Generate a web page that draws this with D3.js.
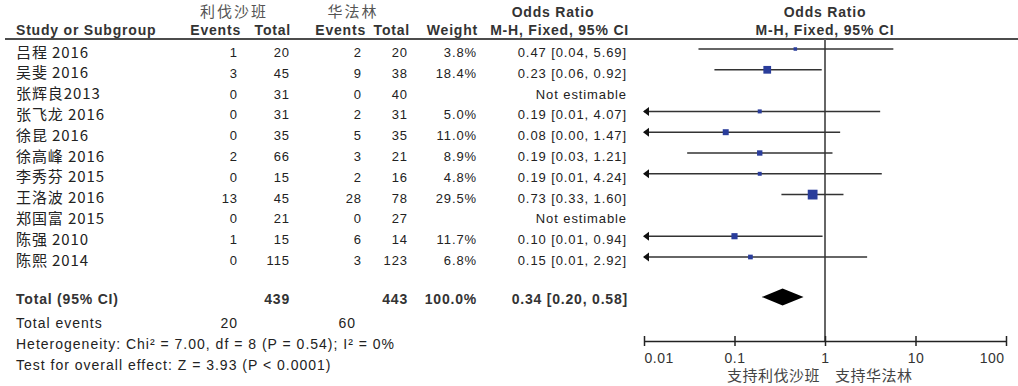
<!DOCTYPE html>
<meta charset="utf-8" />
<style>
  body {
    margin: 0;
    background: #fff;
  }

  svg text {
    font-family: "Liberation Sans", Arial, "Noto Sans CJK SC", sans-serif;
    font-size: 13px;
    letter-spacing: 0.9px;
    fill: #222;
  }

  .head {
    font-weight: bold;
    font-size: 14px;
    fill: #333;
    letter-spacing: 0.8px;
  }

  .cjk {
    font-family: "Noto Sans CJK SC", sans-serif;
    font-size: 15px;
    letter-spacing: 0.9px;
  }

  .group {
    font-family: "Noto Sans CJK SC", sans-serif;
    font-size: 15px;
    fill: #555;
    letter-spacing: 2px;
  }

  .favour {
    font-family: "Noto Sans CJK SC", sans-serif;
    font-size: 15px;
    fill: #444;
    letter-spacing: 0.5px;
  }

  .foot {
    font-size: 14px;
    letter-spacing: 1px;
  }

  .axis path,
  .axis line {
    stroke: #222;
    stroke-width: 1.5;
    fill: none;
  }

  .axis text {
    font-size: 14px;
    fill: #333;
    letter-spacing: 0.5px;
  }
</style>
<svg width="1018" height="386"></svg>
<script src="https://cdn.jsdelivr.net/npm/d3@7"></script>
<script>
  var studies = ["吕程 2016", "吴斐 2016", "张辉良2013", "张飞龙 2016", "徐昆 2016",
    "徐高峰 2016", "李秀芬 2015", "王洛波 2016", "郑国富 2015", "陈强 2010", "陈熙 2014"];
  var rivEvents = [1, 3, 0, 0, 0, 2, 0, 13, 0, 1, 0];
  var rivTotal = [20, 45, 31, 31, 35, 66, 15, 45, 21, 15, 115];
  var warEvents = [2, 9, 0, 2, 5, 3, 2, 28, 0, 6, 3];
  var warTotal = [20, 38, 40, 31, 35, 21, 16, 78, 27, 14, 123];
  var weights = [3.8, 18.4, null, 5.0, 11.0, 8.9, 4.8, 29.5, null, 11.7, 6.8];
  var orValues = [0.47, 0.23, null, 0.19, 0.08, 0.19, 0.19, 0.73, null, 0.10, 0.15];
  var ciLow = [0.04, 0.06, null, 0.01, 0.00, 0.03, 0.01, 0.33, null, 0.01, 0.01];
  var ciHigh = [5.69, 0.92, null, 4.07, 1.47, 1.21, 4.24, 1.60, null, 0.94, 2.92];

  var totalRiv = 439, totalWar = 443;
  var totalEventsRiv = 20, totalEventsWar = 60;
  var totalOR = [0.34, 0.20, 0.58];
  var axisTicks = [0.01, 0.1, 1, 10, 100];
  var heterogeneity = "Heterogeneity: Chi² = 7.00, df = 8 (P = 0.54); I² = 0%";
  var overallTest = "Test for overall effect: Z = 3.93 (P < 0.0001)";

  var svg = d3.select("svg");

  var x = d3.scaleLog().domain([0.01, 100]).range([644, 1006]);
  var y = d3.scaleLinear().domain([0, studies.length - 1]).range([49, 257]);

  // right edges of the table columns
  var col = { name: 16, rivE: 238, rivT: 290, warE: 362, warT: 408, weight: 477, ci: 627 };

  function fmt(v) {
    return v.toFixed(2);
  }

  function addText(tx, ty, str, anchor, cls) {
    return svg.append("text")
      .attr("x", tx)
      .attr("y", ty)
      .attr("text-anchor", anchor || "end")
      .attr("class", cls || null)
      .text(str);
  }

  // header
  addText(234, 17, "利伐沙班", "middle", "group");
  addText(353, 17, "华法林", "middle", "group");
  addText(553, 17, "Odds Ratio", "middle", "head");
  addText(x(1), 17, "Odds Ratio", "middle", "head");
  addText(col.name, 35, "Study or Subgroup", "start", "head");
  addText(col.rivE + 3, 35, "Events", "end", "head");
  addText(col.rivT + 1, 35, "Total", "end", "head");
  addText(col.warE + 4, 35, "Events", "end", "head");
  addText(col.warT + 2, 35, "Total", "end", "head");
  addText(col.weight + 1, 35, "Weight", "end", "head");
  addText(col.ci + 2, 35, "M-H, Fixed, 95% CI", "end", "head");
  addText(x(1), 35, "M-H, Fixed, 95% CI", "middle", "head");

  svg.append("line")
    .attr("x1", 5).attr("x2", 1018)
    .attr("y1", 39).attr("y2", 39)
    .attr("stroke", "#111")
    .attr("stroke-width", 1.6);

  // line of no effect
  svg.append("line")
    .attr("x1", x(1)).attr("x2", x(1))
    .attr("y1", 39).attr("y2", 341)
    .attr("stroke", "#666")
    .attr("stroke-width", 2);

  // table rows
  studies.forEach(function(s, i) {
    var ty = y(i) + 8;
    addText(col.name, ty + 0.5, s, "start", "cjk");
    addText(col.rivE, ty, rivEvents[i]);
    addText(col.rivT, ty, rivTotal[i]);
    addText(col.warE, ty, warEvents[i]);
    addText(col.warT, ty, warTotal[i]);
    if (orValues[i] == null) {
      addText(col.ci, ty, "Not estimable").attr("letter-spacing", "0.3px");
      return;
    }
    addText(col.weight, ty, weights[i].toFixed(1) + "%");
    addText(col.ci, ty, fmt(orValues[i]) + " [" + fmt(ciLow[i]) + ", " + fmt(ciHigh[i]) + "]");
  });

  // forest marks
  var g = svg.append("g");
  studies.forEach(function(s, i) {
    if (orValues[i] == null) return;
    var cy = y(i);
    var clipped = ciLow[i] <= 0.01;
    var x1 = clipped ? x(0.01) : x(ciLow[i]);
    g.append("line")
      .attr("x1", x1).attr("x2", x(ciHigh[i]))
      .attr("y1", cy).attr("y2", cy)
      .attr("stroke", "#333")
      .attr("stroke-width", 1.5);
    if (clipped) {
      g.append("path")
        .attr("d", "M" + (x1 - 1) + "," + cy + "l6,-4.5v9z")
        .attr("fill", "#111");
    }
    var side = 1.8 * Math.sqrt(weights[i]);
    g.append("rect")
      .attr("x", x(orValues[i]) - side / 2)
      .attr("y", cy - side / 2)
      .attr("width", side)
      .attr("height", side)
      .attr("fill", "#2a3d9b");
  });

  // totals
  addText(col.name, 304, "Total (95% CI)", "start", "head");
  addText(col.rivT, 304, totalRiv, "end", "head");
  addText(col.warT, 304, totalWar, "end", "head");
  addText(col.weight, 304, "100.0%", "end", "head");
  addText(col.ci + 1, 304, fmt(totalOR[0]) + " [" + fmt(totalOR[1]) + ", " + fmt(totalOR[2]) + "]", "end", "head");

  var dy = 297;
  svg.append("path")
    .attr("d", "M" + x(totalOR[1]) + "," + dy +
      "L" + x(totalOR[0]) + "," + (dy - 8.5) +
      "L" + x(totalOR[2]) + "," + dy +
      "L" + x(totalOR[0]) + "," + (dy + 8.5) + "Z")
    .attr("fill", "#000");

  addText(col.name, 328, "Total events", "start", "foot").attr("letter-spacing", "1.15px");
  addText(col.rivE, 328, totalEventsRiv, "end", "foot");
  addText(col.warE - 6, 328, totalEventsWar, "end", "foot");
  addText(col.name, 349, heterogeneity, "start", "foot");
  addText(col.name, 370, overallTest, "start", "foot");

  // axis
  var axis = svg.append("g")
    .attr("class", "axis")
    .attr("transform", "translate(0,341)")
    .call(d3.axisBottom(x)
      .tickValues(axisTicks)
      .tickFormat(function(d) { return String(d); })
      .tickSizeInner(5)
      .tickSizeOuter(0));
  axis.selectAll(".tick line").attr("y1", -5);
  axis.selectAll(".tick text")
    .attr("y", 12)
    .attr("dy", "0.71em")
    .attr("text-anchor", function(d, i) {
      return i === 0 ? "start" : i === axisTicks.length - 1 ? "end" : "middle";
    })
    .attr("dx", function(d, i) {
      return i === axisTicks.length - 1 ? "-2px" : null;
    });

  addText(820, 381, "支持利伐沙班", "end", "favour");
  addText(835, 381, "支持华法林", "start", "favour");
</script>
